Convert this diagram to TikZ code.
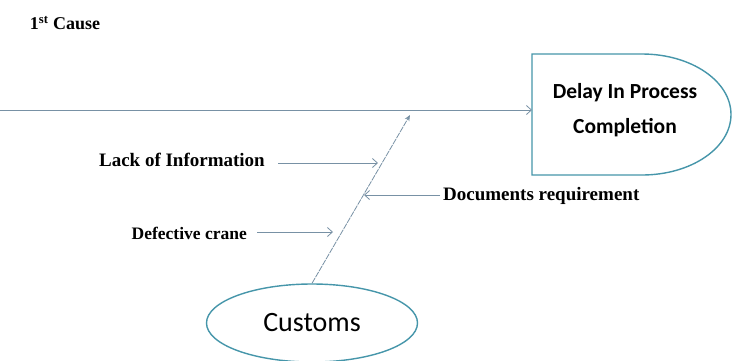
\documentclass[tikz,border=0pt]{standalone}
\usepackage{fontspec}
\setmainfont{Liberation Serif}
\newfontfamily\boxfont{Carlito}
\usetikzlibrary{arrows.meta,shapes.geometric}
\definecolor{linegrey}{RGB}{120,145,165}
\definecolor{shapeteal}{RGB}{70,150,170}
\begin{document}
\begin{tikzpicture}[x=1pt,y=-1pt,
  lbl/.style={font=\fontsize{19}{20}\selectfont\bfseries, inner sep=0pt},
  cause/.style={draw=linegrey, line width=0.8pt, -{Straight Barb[length=5pt,width=9pt]}},
  spine/.style={draw=linegrey, line width=0.8pt, dash pattern=on 6pt off 1pt, -{Stealth[length=6pt,width=5pt]}}]
\useasboundingbox (0,0) rectangle (732,360);
\fill[white] (0,0) rectangle (732,360);
% title
\node[font=\fontsize{18}{20}\selectfont\bfseries, inner sep=0pt] (title) at (65,23) {1\textsuperscript{st} Cause};
% effect box (D shape)
\draw[shapeteal, line width=1.4pt] (642,54) -- (532,54) -- (532,175) -- (642,175)
  arc[start angle=90, end angle=-90, x radius=89, y radius=60.5];
\node[font=\boxfont\bfseries\fontsize{21.5}{35}\selectfont, align=center, inner sep=0pt] (delay) at (625,110) {Delay In Process\\Completion};
\coordinate (boxw) at (532,110);
\coordinate (start) at (0,110);
\draw[cause] (start) -- (boxw);
% customs ellipse
\node[ellipse, draw=shapeteal, line width=1.4pt, minimum width=211, minimum height=78,
  font=\boxfont\fontsize{28}{30}\selectfont] (customs) at (312,323) {Customs};
\coordinate (spinetip) at (410,115);
\draw[spine] (customs.north) -- (spinetip);
% causes
\node[lbl, anchor=east] (lack) at (265,160) {Lack of Information};
\coordinate (l1) at (378,163);
\draw[cause] ([xshift=13pt,yshift=-3pt]lack.east) -- (l1);
\node[lbl, anchor=west] (docs) at (443,196) {Documents requirement};
\coordinate (d1) at (364,195);
\draw[cause] ([xshift=-3pt,yshift=1pt]docs.west) -- (d1);
\node[lbl, anchor=east, font=\fontsize{17.5}{20}\selectfont\bfseries] (crane) at (247,233) {Defective crane};
\coordinate (c1) at (333,232);
\draw[cause] ([xshift=10pt,yshift=1pt]crane.east) -- (c1);
\end{tikzpicture}
\end{document}
